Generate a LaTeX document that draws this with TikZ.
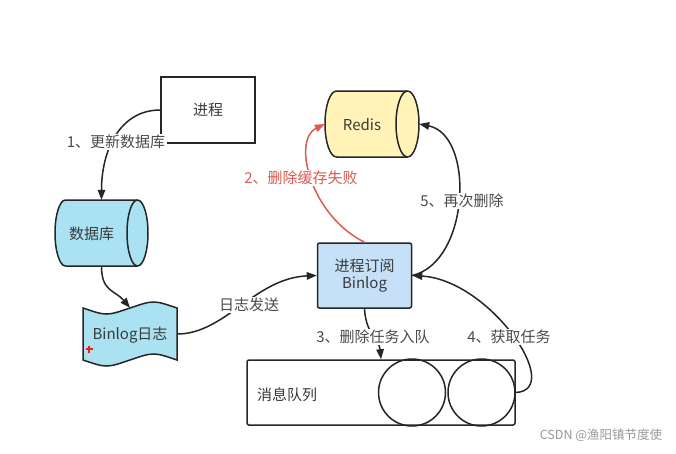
\documentclass[tikz,border=0pt]{standalone}
\usepackage{fontspec}
\setmainfont{Noto Sans CJK SC}
\usetikzlibrary{arrows.meta,calc}
\definecolor{dbfill}{HTML}{AAE2F1}
\definecolor{subfill}{HTML}{C6E0F8}
\definecolor{redisfill}{HTML}{FFF3B8}
\definecolor{edge}{HTML}{262626}
\definecolor{txtc}{HTML}{3A3A3A}
\definecolor{lblc}{HTML}{4A4A4A}
\definecolor{redc}{HTML}{DE5A52}
\definecolor{plusc}{HTML}{E8201C}
\tikzset{
  boxnode/.style={draw=edge, line width=1.5pt, inner sep=0pt, text=txtc, font=\fontsize{15}{19}\selectfont, align=center},
  shapebg/.style={draw=edge, line width=1.5pt},
  holder/.style={inner sep=0pt, draw=none},
  txt/.style={text=txtc, font=\fontsize{15}{19}\selectfont, align=center, inner sep=0pt},
  lbl/.style={fill=white, text=lblc, font=\fontsize{15}{19}\selectfont, inner sep=1.5pt},
  conn/.style={draw=edge, line width=1.5pt, -{Triangle[length=10pt,width=7.5pt]}},
}
\begin{document}
\begin{tikzpicture}[x=1pt,y=-1pt]
\useasboundingbox[fill=white] (0,0) rectangle (676,453);

% process box
\node[boxnode, minimum width=94pt, minimum height=66pt] (p) at (208,110) {进程};

% database cylinder
\node[holder, minimum width=93pt, minimum height=66pt] (db) at (101.5,233) {};
\filldraw[shapebg, fill=dbfill] (65.5,200) -- (137.5,200)
  arc[start angle=90,end angle=-90,x radius=10.5pt,y radius=33pt] -- (65.5,266)
  arc[start angle=270,end angle=90,x radius=10.5pt,y radius=33pt] -- cycle;
\draw[shapebg] (137.5,200) arc[start angle=90,end angle=270,x radius=10.5pt,y radius=33pt];
\node[txt] (dbt) at (91.5,234) {数据库};

% binlog tape
\node[holder, minimum width=94pt, minimum height=52pt] (bl) at (130,334) {};
\filldraw[shapebg, fill=dbfill] (83,308) .. controls (106.5,316) .. (130,308)
  .. controls (153.5,300) .. (177,308) -- (177,360)
  .. controls (153.5,352) .. (130,360) .. controls (106.5,368) .. (83,360) -- cycle;
\node[txt] (blt) at (130,335) {Binlog日志};
\draw[draw=plusc, line width=1.1pt] (85.5,349) -- (92.5,349) (89,345.5) -- (89,352.5);

% subscriber box
\node[boxnode, fill=subfill, rounded corners=2pt, minimum width=94pt, minimum height=65pt] (sub) at (364.5,275.5) {进程订阅\\[-2pt]Binlog};

% redis cylinder
\node[holder, minimum width=94pt, minimum height=66pt] (redis) at (372,124) {};
\filldraw[shapebg, fill=redisfill] (336.5,91) -- (407.5,91)
  arc[start angle=90,end angle=-90,x radius=11.5pt,y radius=33pt] -- (336.5,157)
  arc[start angle=270,end angle=90,x radius=11.5pt,y radius=33pt] -- cycle;
\draw[shapebg] (407.5,91) arc[start angle=90,end angle=270,x radius=11.5pt,y radius=33pt];
\node[txt] (redist) at (362,125) {Redis};

% message queue
\node[boxnode, rounded corners=2pt, minimum width=268pt, minimum height=65pt] (q) at (381,392.5) {};
\draw[shapebg] (412,392.5) circle[radius=33.5pt];
\draw[shapebg] (481.5,392.5) circle[radius=33.5pt];
\node[txt] (qt) at (287,395) {消息队列};

% connectors
\draw[conn] (p.west) .. controls (120,110) and (101.5,150) .. (db.north);
\node[lbl] (l1) at (116,142) {1、更新数据库};

\draw[conn] (db.south) .. controls (101.5,292) and (115,290) .. (bl.north);

\draw[conn] (bl.east) .. controls (225,334) and (255,278) .. (sub.west);
\node[lbl] (l6) at (249,305) {日志发送};

\draw[conn, draw=redc, -{Triangle[length=10pt,width=7.5pt,fill=redc]}, color=redc] (sub.north) .. controls (310,215) and (292,140) .. (redis.west);
\node[lbl, text=redc] (l2) at (301,178) {2、删除缓存失败};

\draw[conn] (sub.east) .. controls (470,262) and (475,135) .. (redis.east);
\node[lbl] (l5) at (462,201) {5、再次删除};

\draw[conn] (sub.south) .. controls (366,335) and (379,338) .. (q.north);
\node[lbl] (l3) at (373,337) {3、删除任务入队};

\draw[conn] (q.east) .. controls (565,390) and (490,280) .. (sub.east);
\node[lbl] (l4) at (509,337) {4、获取任务};

\node[text=gray!80, font=\fontsize{12.5}{15}\selectfont, inner sep=0pt] (wm) at (601,435) {CSDN @渔阳镇节度使};
\end{tikzpicture}
\end{document}
